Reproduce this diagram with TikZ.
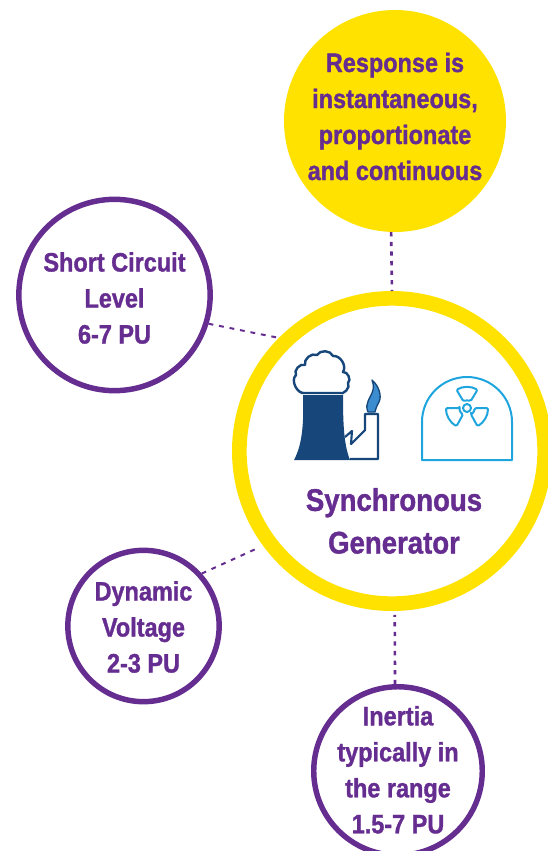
\documentclass[tikz,border=0pt]{standalone}
\usepackage{fontspec}
\setmainfont[FakeStretch=0.88, BoldFeatures={FakeBold=1.2}]{Liberation Sans}
\definecolor{genpurple}{HTML}{662D91}
\definecolor{genyellow}{HTML}{FFE200}
\definecolor{towerblue}{HTML}{17477A}
\definecolor{flameblue}{HTML}{3C8DD0}
\definecolor{domeblue}{HTML}{1FA5DE}
\tikzset{
	ring/.style={circle, draw=genpurple, line width=4.1pt, text=genpurple, align=center, inner sep=-20pt},
	link/.style={draw=genpurple, line width=2pt, dash pattern=on 3.2pt off 4pt},
	thinlink/.style={link, line width=1.5pt, dash pattern=on 3.6pt off 4.4pt},
	caption/.style={text=genpurple, align=center, font=\fontsize{23.5}{32}\selectfont\bfseries}
}
\begin{document}
\begin{tikzpicture}[x=.75pt, y=-.75pt, font=\fontsize{20}{27}\selectfont\bfseries, line join=round]
	\useasboundingbox (0,0) rectangle (548,851);
	\clip (0,0) rectangle (548,851);
	% circles
	\node[circle, fill=genyellow, text=genpurple, align=center, inner sep=0pt, minimum size=166.5pt] (response) at (395,121) {Response is\\instantaneous,\\proportionate\\and continuous\rule[-7pt]{0pt}{0pt}};
	\node[circle, draw=genyellow, line width=11pt, minimum size=229pt] (generator) at (392,451) {};
	\foreach \name/\pos/\size/\label in {
		short/{114.5,295}/143.5/{\rule{0pt}{19pt}Short Circuit\\Level\\6-7 PU},
		dynamic/{143.5,626}/113.5/{\rule{0pt}{16pt}Dynamic\\Voltage\\2-3 PU},
		inertia/{398,771}/126.4/{Inertia\\typically in\\the range\\1.5-7 PU\rule[-2pt]{0pt}{0pt}}} {
		\node[ring, minimum size=\size pt] (\name) at (\pos) {\label};}
	\node[caption] (title) at (394,521) {Synchronous\\Generator};
	% dotted links
	\draw[link] (response.-92) -- (generator.north);
	\draw[thinlink] (short.-17) -- (generator.135);
	\draw[thinlink] (dynamic.42) -- ([shift={(-3pt,-2pt)}]generator.216);
	\draw[link, shorten >=3pt] (inertia.92) -- (generator.-89);
	% cooling tower and plant
	\draw[towerblue, line width=1.8pt, fill=white] (305,393) to[bend left=75] (296,375) to[bend left=75] (305,365) to[bend left=65] (317,355) to[bend left=65] (333,356) to[bend left=65] (343,372) to[bend left=75] (348,383) to[bend left=75] (339,393) -- cycle;
	\fill[towerblue] (303,395) -- (343,395) .. controls (343,425) and (344,445) .. (350,460) -- (294,460) .. controls (302,445) and (304,425) .. cycle;
	\draw[towerblue, line width=1.6pt] (345,437) -- (352,431) -- (351,444) -- (365,430) -- (365,414) -- (378,414) -- (378,459) -- (350,459);
	\draw[towerblue, line width=1pt, fill=flameblue] (368,412) .. controls (364,403) and (371,398) .. (373,390) .. controls (374,386) and (373,383) .. (372,380) .. controls (379,386) and (382,396) .. (379,402) .. controls (377,405) and (376,408) .. (375,412) -- cycle;
	% reactor dome
	\draw[domeblue, line width=1.5pt] (422,460) -- (422,422) arc[start angle=180, end angle=360, radius=45] -- (512,460) -- cycle;
	\begin{scope}[shift={(467,408)}, y=.75pt, domeblue, line width=1.5pt, rounded corners=1pt]
		\draw (0,0) circle (4);
		\foreach \a in {90,210,330} {
			\draw (\a-28:7.5) -- (\a-30:21) arc[start angle=\a-30, end angle=\a+30, radius=21] -- (\a+28:7.5) arc[start angle=\a+28, end angle=\a-28, radius=7.5] -- cycle;}
	\end{scope}
\end{tikzpicture}
\end{document}
